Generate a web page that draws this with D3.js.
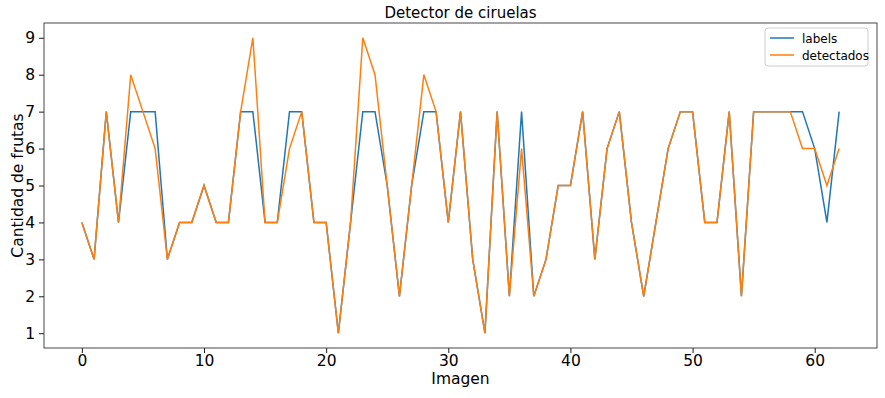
<!DOCTYPE html>
<html>
<head>
<meta charset="utf-8">
<script src="https://cdn.jsdelivr.net/npm/d3@7"></script>
<style>
  body { margin: 0; background: #fff; }
  svg text { font-family: "DejaVu Sans", sans-serif; fill: #000; }
</style>
</head>
<body>
<div id="visArea"></div>
<script>
// data
var labels = [4,3,7,4,7,7,7,3,4,4,5,4,4,7,7,4,4,7,7,4,4,1,4,7,7,5,2,5,7,7,4,7,3,1,7,2,7,2,3,5,5,7,3,6,7,4,2,4,6,7,7,4,4,7,2,7,7,7,7,7,6,4,7]
var detectados = [4,3,7,4,8,7,6,3,4,4,5,4,4,7,9,4,4,6,7,4,4,1,4,9,8,5,2,5,8,7,4,7,3,1,7,2,6,2,3,5,5,7,3,6,7,4,2,4,6,7,7,4,4,7,2,7,7,7,7,6,6,5,6]
var xTicks = [0,10,20,30,40,50,60]
var yTicks = [1,2,3,4,5,6,7,8,9]
var seriesNames = ["labels", "detectados"]
var seriesColors = ["#1f77b4", "#ff7f0e"]

// Display Constants
var viewWidth = 885
var viewHeight = 398
var plotLeft = 44, plotRight = 877, plotTop = 23, plotBottom = 348

var n = labels.length
var xPad = (n - 1) * 0.05
var xScale = d3.scaleLinear().domain([-xPad, n - 1 + xPad]).range([plotLeft, plotRight])
var yScale = d3.scaleLinear().domain([0.6, 9.4]).range([plotBottom, plotTop])

var svg = d3.select('#visArea')
  .append("svg")
  .attr("width", viewWidth)
  .attr("height", viewHeight)

var lineGenerator = d3.line()
  .x((d, i) => xScale(i))
  .y((d) => yScale(d))

svg.append('g').selectAll('path.series')
  .data([labels, detectados])
  .enter().append('path')
  .attr('class', 'series')
  .attr('d', lineGenerator)
  .attr('fill', 'none')
  .attr('stroke', (d, i) => seriesColors[i])
  .attr('stroke-width', 1.5)

// axes
var xAxis = d3.axisBottom(xScale).tickValues(xTicks).tickSize(5).tickPadding(2)
var yAxis = d3.axisLeft(yScale).tickValues(yTicks).tickSize(5).tickPadding(4)

svg.append('g')
  .attr("transform", "translate(0," + plotBottom + ")")
  .call(xAxis)
svg.append('g')
  .attr("transform", "translate(" + plotLeft + ",0)")
  .call(yAxis)

svg.selectAll('.domain').remove()
svg.selectAll('.tick line').attr('stroke', '#000').attr('stroke-width', 0.9)
svg.selectAll('.tick text').style('font-size', '15.5px').attr('fill', '#000')

// frame
svg.append('rect')
  .attr('x', plotLeft).attr('y', plotTop)
  .attr('width', plotRight - plotLeft).attr('height', plotBottom - plotTop)
  .attr('fill', 'none').attr('stroke', '#333').attr('stroke-width', 0.9)

// titles
svg.append('text')
  .attr('x', (plotLeft + plotRight) / 2).attr('y', 18)
  .attr('text-anchor', 'middle')
  .style('font-size', '15px')
  .text('Detector de ciruelas')

svg.append('text')
  .attr('x', (plotLeft + plotRight) / 2).attr('y', 384)
  .attr('text-anchor', 'middle')
  .style('font-size', '15.5px')
  .text('Imagen')

svg.append('text')
  .attr('transform', 'translate(23,' + ((plotTop + plotBottom) / 2) + ') rotate(-90)')
  .attr('text-anchor', 'middle')
  .style('font-size', '15.5px')
  .text('Cantidad de frutas')

// legend
var legend = svg.append('g').attr('transform', 'translate(765,28)')
legend.append('rect')
  .attr('width', 103).attr('height', 38).attr('rx', 3)
  .attr('fill', '#fff').attr('fill-opacity', 0.8)
  .attr('stroke', '#ccc').attr('stroke-width', 1)
seriesNames.forEach(function(name, i) {
  var y = 10 + i * 17
  legend.append('line')
    .attr('x1', 5).attr('x2', 29).attr('y1', y).attr('y2', y)
    .attr('stroke', seriesColors[i]).attr('stroke-width', 1.5)
  legend.append('text')
    .attr('x', 37).attr('y', y + 4.5)
    .style('font-size', '12px')
    .text(name)
})
</script>
</body>
</html>
